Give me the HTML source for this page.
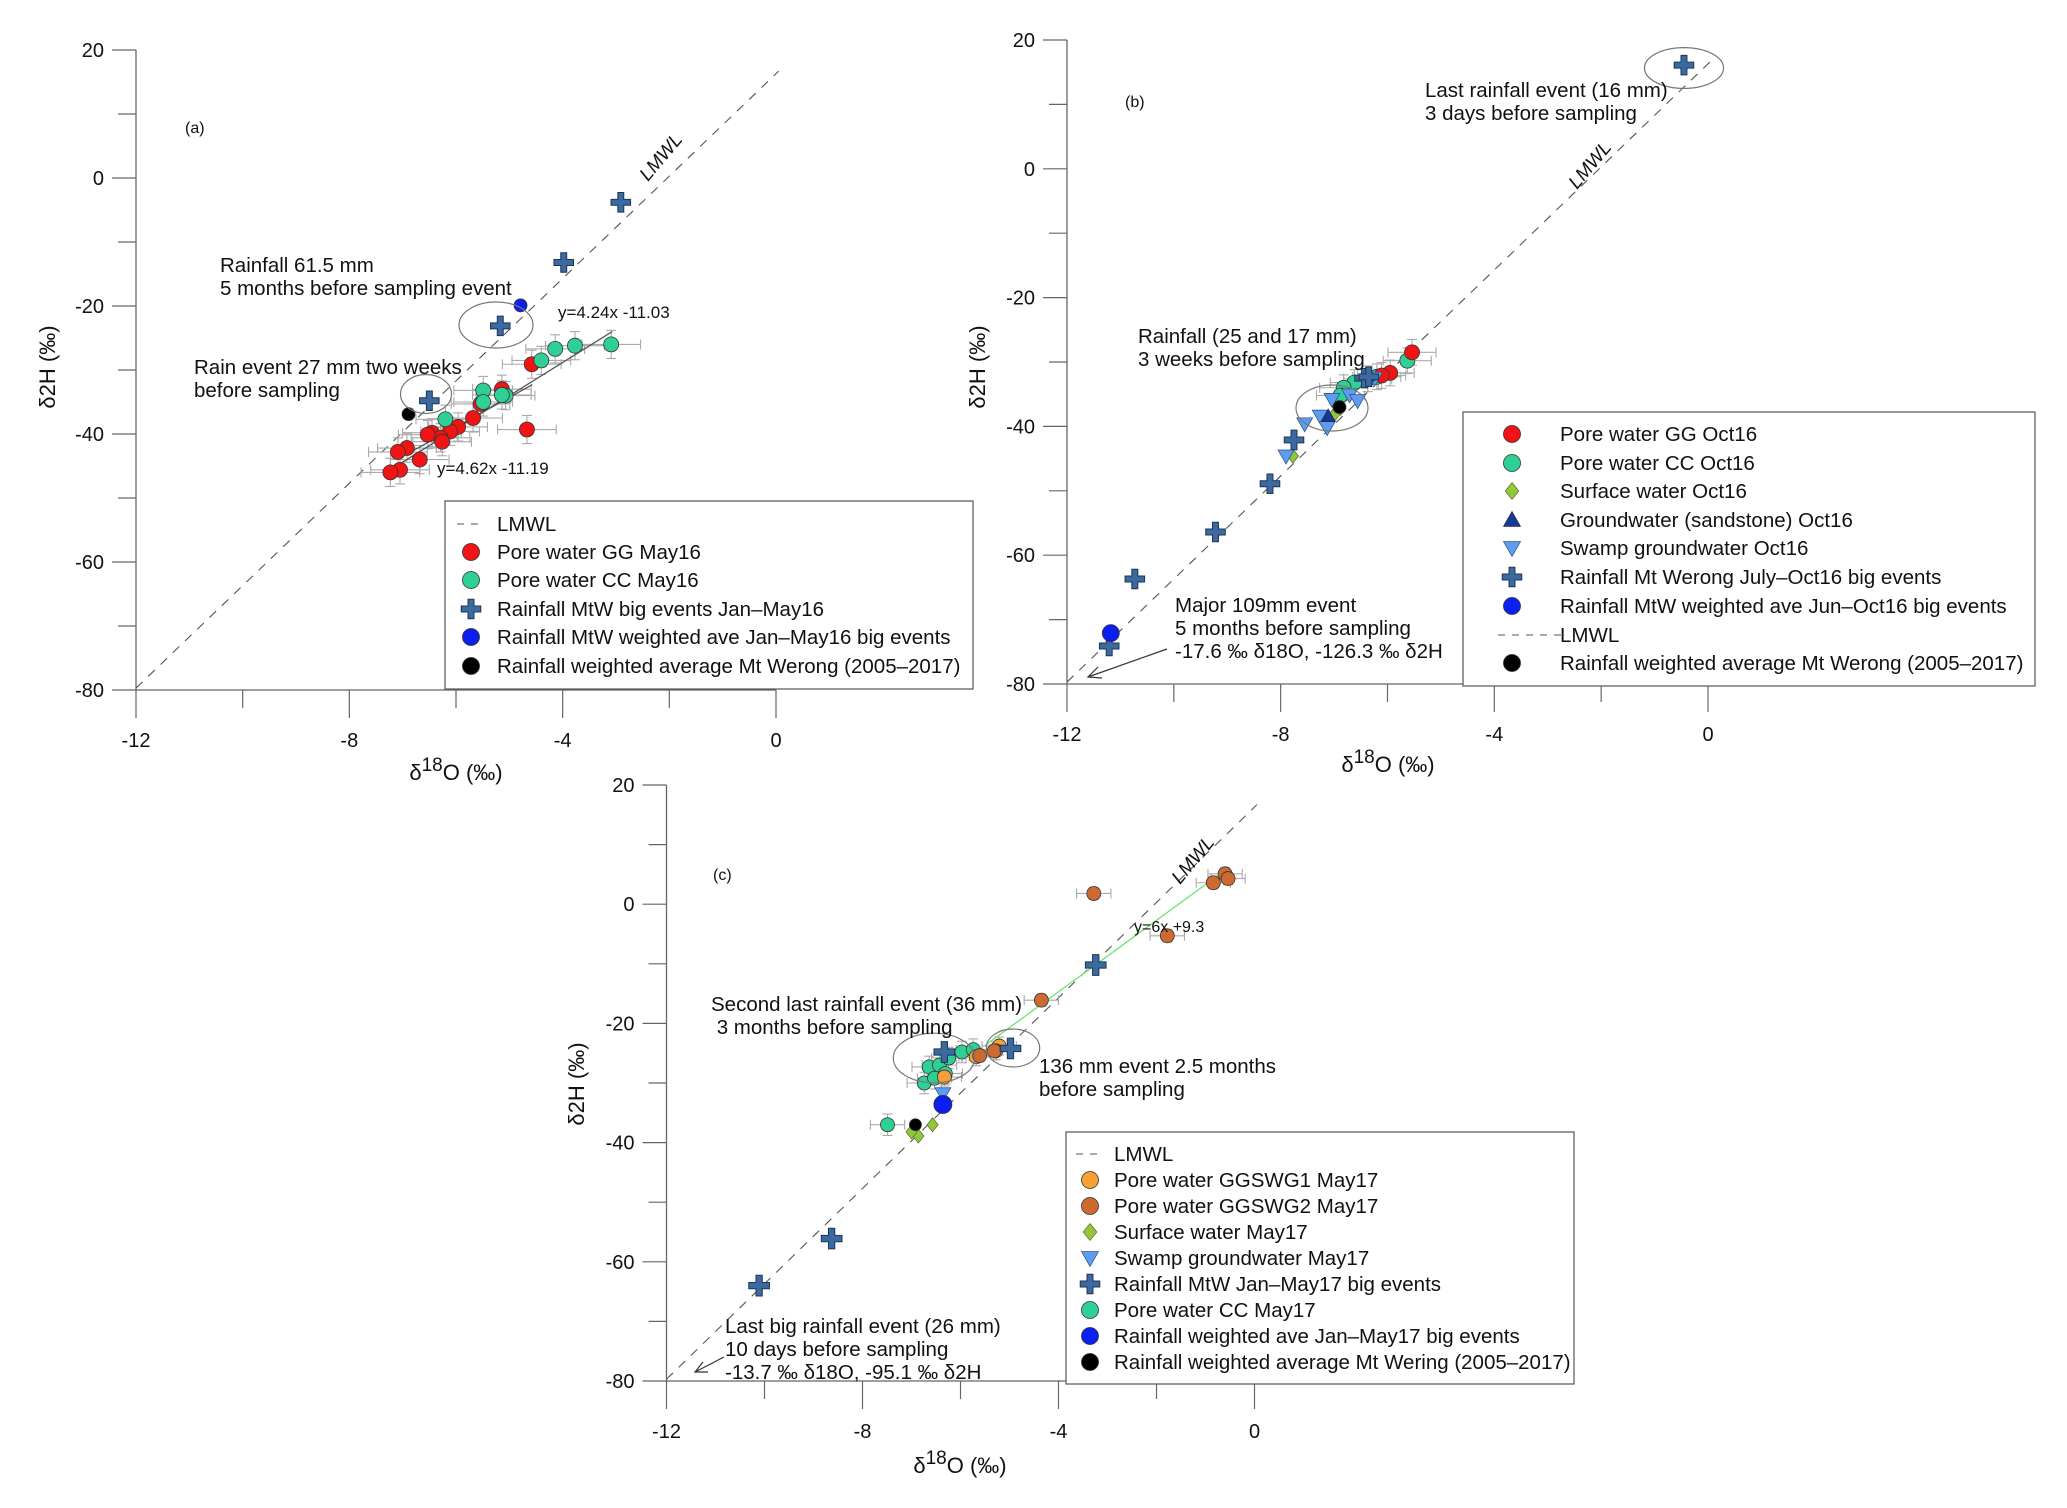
<!DOCTYPE html>
<html><head><meta charset="utf-8"><style>
html,body{margin:0;padding:0;background:#fff;}
svg{display:block;font-family:"Liberation Sans",Arial,sans-serif;}
</style></head><body>
<svg id="fig" width="2067" height="1508" viewBox="0 0 2067 1508" xmlns="http://www.w3.org/2000/svg"></svg>
<script>
// ---------- Panel (a) data ----------
const aRainX=[-2.91,-3.98,-5.17,-6.50];
const aRainY=[-3.8,-13.2,-23.1,-34.8];
const aWavgX=[-4.79]; const aWavgY=[-19.9];
const aLtX=[-6.89]; const aLtY=[-36.9];
const aCCX=[-3.09,-3.77,-4.14,-4.40,-5.07,-5.14,-5.49,-5.49,-6.20];
const aCCY=[-26.0,-26.2,-26.7,-28.5,-34.0,-33.9,-33.2,-35.0,-37.7];
const aGGX=[-4.58,-5.14,-5.54,-5.68,-5.96,-6.11,-6.45,-6.29,-6.26,-6.53,-4.67,-6.92,-7.09,-6.68,-7.05,-7.23];
const aGGY=[-29.1,-33.0,-35.3,-37.5,-38.9,-39.6,-39.8,-40.6,-41.2,-40.1,-39.3,-42.2,-42.8,-44.0,-45.6,-46.0];
const aFit1X=[-7.23,-3.07]; const aFit1Y=[-45.6,-24.0];
const aFit2X=[-6.89,-4.57]; const aFit2Y=[-43.0,-32.3];
// ---------- Panel (b) data ----------
const bRainX=[-0.45,-10.73,-9.22,-8.20,-7.75,-11.21,-6.43,-6.35];
const bRainY=[16.1,-63.7,-56.4,-48.9,-42.1,-74.1,-32.5,-32.3];
const bWavgX=[-11.18]; const bWavgY=[-72.1];
const bLtX=[-6.90]; const bLtY=[-37.0];
const bGGX=[-5.54,-5.95,-6.11]; const bGGY=[-28.5,-31.7,-32.1];
const bCCX=[-5.63,-6.20,-6.37,-6.62,-6.82,-6.88]; const bCCY=[-29.8,-32.3,-32.6,-33.2,-34.0,-35.2];
const bSurfX=[-7.77,-7.0,-6.88]; const bSurfY=[-44.6,-38.2,-37.2];
const bGwX=[-7.11]; const bGwY=[-38.4];
const bSwX=[-7.55,-7.90,-7.26,-7.13,-7.04,-6.71,-6.56,-6.24]; const bSwY=[-39.6,-44.6,-38.4,-40.2,-35.8,-35.1,-36.0,-32.5];
// ---------- Panel (c) data ----------
const cRainX=[-10.11,-8.63,-3.24,-4.98,-6.33]; const cRainY=[-64.0,-56.1,-10.2,-24.2,-24.8];
const cWavgX=[-6.36]; const cWavgY=[-33.6];
const cLtX=[-6.92]; const cLtY=[-37.0];
const cSurfX=[-6.86,-7.0,-6.57]; const cSurfY=[-38.9,-38.2,-37.0];
const cSwX=[-6.36]; const cSwY=[-31.8];
const cCCX=[-7.49,-6.74,-6.64,-6.43,-6.24,-5.97,-5.74,-6.31,-6.53]; const cCCY=[-37.0,-30.0,-27.3,-27.0,-25.8,-24.8,-24.4,-28.4,-29.2];
const cG1X=[-6.33,-5.68,-5.21,-5.28]; const cG1Y=[-29.0,-25.6,-23.8,-24.6];
const cG2X=[-3.28,-1.78,-4.35,-0.84,-0.60,-0.54,-5.31,-5.61]; const cG2Y=[1.8,-5.3,-16.1,3.6,5.1,4.3,-24.6,-25.4];
const cFitX=[-5.5,-0.63];
const lmwlX=[-12,0.05];
const xTicks=[-12,-8,-4,0]; const yTicks=[20,0,-20,-40,-60,-80];

const NS="http://www.w3.org/2000/svg";
const svg=document.getElementById('fig');
function el(tag,attrs,parent){const e=document.createElementNS(NS,tag);for(const k in attrs)e.setAttribute(k,attrs[k]);(parent||svg).appendChild(e);return e;}
function txt(parent,x,y,s,size,extra){const t=el('text',Object.assign({x:x,y:y,'font-size':size,fill:'#111'},extra||{}),parent);t.textContent=s;return t;}

const COL={red:'#f01414',cc:'#2fcf95',blue:'#0b1ff0',black:'#000',rain:'#3a6aa0',orange:'#f7a035',brown:'#cc6a30',surf:'#90c83a',sw:'#5d9cf0',gw:'#17379a'};
const FS=20.5;

function marker(g,type,x,y,color,r){
  let m;
  if(type==='circle'){m=el('circle',{cx:x,cy:y,r:r,fill:color,stroke:'#333','stroke-width':0.8},g);}
  else if(type==='cross'){const s=r*1.15,w=r*0.35;
    m=el('polygon',{points:[[x-w,y-s],[x+w,y-s],[x+w,y-w],[x+s,y-w],[x+s,y+w],[x+w,y+w],[x+w,y+s],[x-w,y+s],[x-w,y+w],[x-s,y+w],[x-s,y-w],[x-w,y-w]].map(p=>p.join(',')).join(' '),fill:color,stroke:'#1c3554','stroke-width':1},g);}
  else if(type==='diamond'){m=el('polygon',{points:`${x},${y-r} ${x+r*0.8},${y} ${x},${y+r} ${x-r*0.8},${y}`,fill:color,stroke:'#556b20','stroke-width':0.7},g);}
  else if(type==='tri-up'){m=el('polygon',{points:`${x},${y-r} ${x+r},${y+r*0.75} ${x-r},${y+r*0.75}`,fill:color,stroke:'#223','stroke-width':0.7},g);}
  else {m=el('polygon',{points:`${x-r},${y-r*0.75} ${x+r},${y-r*0.75} ${x},${y+r}`,fill:color,stroke:'#2a4c80','stroke-width':0.7},g);}
  return m;
}

function panel(cfg){
  const g=el('g',{});
  
  
  const X=v=>cfg.x0+(v+12)*(cfg.x1-cfg.x0)/12;
  const Y=v=>cfg.y0+(20-v)*(cfg.y1-cfg.y0)/100;
  cfg.X=X;cfg.Y=Y;
  const ax=el('g',{},g);
  
  
  const yl=el('line',{x1:cfg.x0,y1:Y(20),x2:cfg.x0,y2:Y(-80),stroke:'#666','stroke-width':1.3},ax);
  
  
  const xl=el('line',{x1:X(-12),y1:cfg.y1,x2:X(0),y2:cfg.y1,stroke:'#666','stroke-width':1.3},ax);
  
  
  for(let v=20;v>=-80;v-=10){const major=v%20===0;
    el('line',{x1:cfg.x0-(major?24:18),y1:Y(v),x2:cfg.x0,y2:Y(v),stroke:'#666','stroke-width':1.2},ax);}
  yTicks.forEach(v=>{const t=txt(ax,cfg.x0-32,Y(v)+7,String(v),cfg.fs,{'text-anchor':'end'});
    
    });
  for(let v=-12;v<=0;v+=2){const major=v%4===0;
    el('line',{x1:X(v),y1:cfg.y1,x2:X(v),y2:cfg.y1+(major?28:18),stroke:'#666','stroke-width':1.2},ax);}
  xTicks.forEach(v=>{const t=txt(ax,X(v),cfg.y1+57,String(v),cfg.fs,{'text-anchor':'middle'});
    
    });
  const yt=txt(ax,0,0,'',22,{'text-anchor':'middle',transform:`translate(${cfg.ytx},${cfg.yty}) rotate(-90)`});
  yt.innerHTML='δ2H (‰)';
  
  
  const xt=txt(ax,cfg.xtx,cfg.xty,'',22,{'text-anchor':'middle'});
  xt.innerHTML='δ<tspan dy="-9" font-size="19">18</tspan><tspan dy="9">O (‰)</tspan>';
  
  
  const lm=el('line',{x1:X(lmwlX[0]),y1:Y(8*lmwlX[0]+16.3),x2:X(lmwlX[1]),y2:Y(8*lmwlX[1]+16.3),stroke:'#555','stroke-width':1.1,'stroke-dasharray':'9,8'},g);
  
  
  const lt=txt(g,0,0,'LMWL',19,{transform:`translate(${cfg.lmx},${cfg.lmy}) rotate(-50)`,'font-style':'italic'});
  
  
  const p=el('text',{x:cfg.px,y:cfg.py,'font-size':16,fill:'#111'},g);p.textContent=cfg.plabel;
  
  
  return g;
}
function errbars(g,cfg,xs,ys,ex,ey){
  const eg=el('g',{stroke:'#aaa','stroke-width':1.1},g);
  
  
  xs.forEach((v,i)=>{const x=cfg.X(v),y=cfg.Y(ys[i]),dx=ex*(cfg.x1-cfg.x0)/12,dy=ey*(cfg.y1-cfg.y0)/100;
    el('line',{x1:x-dx,y1:y,x2:x+dx,y2:y},eg);el('line',{x1:x,y1:y-dy,x2:x,y2:y+dy},eg);
    el('line',{x1:x-dx,y1:y-5,x2:x-dx,y2:y+5},eg);el('line',{x1:x+dx,y1:y-5,x2:x+dx,y2:y+5},eg);
    el('line',{x1:x-5,y1:y-dy,x2:x+5,y2:y-dy},eg);el('line',{x1:x-5,y1:y+dy,x2:x+5,y2:y+dy},eg);});
}
function series(g,cfg,xs,ys,type,color,r,name){
  const sg=el('g',{},g);
  
  
  xs.forEach((v,i)=>{const m=marker(sg,type,cfg.X(v),cfg.Y(ys[i]),color,r);
    
    });
}
function legend(g,box,items,fs){
  const lg=el('g',{},g);
  
  
  el('rect',{x:box.x,y:box.y,width:box.w,height:box.h,fill:'#fff',stroke:'#555','stroke-width':1.2},lg);
  items.forEach((it,i)=>{const y=box.ey[i];
    const e=el('g',{},lg);
    
    
    if(it.t==='dash'){el('line',{x1:box.mx-14,y1:y,x2:box.mx+(box.dashw||14),y2:y,stroke:'#555','stroke-width':1.1,'stroke-dasharray':'7,7'},e);}
    else marker(e,it.t,box.mx,y,it.c,8.5);
    txt(e,box.tx,y+7,it.s,fs);});
}
function ell(g,cx,cy,rx,ry){const e=el('ellipse',{cx:cx,cy:cy,rx:rx,ry:ry,fill:'none',stroke:'#777','stroke-width':1.2},g);
  
  }
function note(g,x,y,lines,fs,lh){const t=el('text',{x:x,y:y,'font-size':fs,fill:'#111'},g);
  
  
  lines.forEach((s,i)=>{const ts=el('tspan',{x:x,y:y+i*lh},t);ts.textContent=s;});}
function fitline(g,cfg,xs,ys,color,name){const l=el('line',{x1:cfg.X(xs[0]),y1:cfg.Y(ys[0]),x2:cfg.X(xs[1]),y2:cfg.Y(ys[1]),stroke:color,'stroke-width':1.3},g);
  
  }

// ===== Panel A =====
const A={name:'panel-a',x0:136,x1:776,y0:50,y1:690,fs:20,ytx:55,yty:367,xtx:456,xty:780,lmx:648,lmy:182,px:185,py:133,plabel:'(a)'};
const gA=panel(A);
errbars(gA,A,aGGX,aGGY,0.55,2.2);errbars(gA,A,aCCX,aCCY,0.55,2.2);
fitline(gA,A,aFit1X,aFit1Y,'#555','regression-line-cc');
fitline(gA,A,aFit2X,aFit2Y,'#555','regression-line-gg');
series(gA,A,aGGX,aGGY,'circle',COL.red,7.5,'pore-water-gg');
series(gA,A,aCCX,aCCY,'circle',COL.cc,7.5,'pore-water-cc');
series(gA,A,aRainX,aRainY,'cross',COL.rain,8.5,'rainfall-big-events');
series(gA,A,aWavgX,aWavgY,'circle',COL.blue,6.5,'rainfall-weighted-ave');
series(gA,A,aLtX,aLtY,'circle',COL.black,6.5,'rainfall-longterm-ave');
ell(gA,496,325,37,23);ell(gA,426,394,25.5,19.5);
note(gA,220,272,['Rainfall 61.5 mm','5 months before sampling event'],FS,23);
note(gA,194,374,['Rain event 27 mm two weeks','before sampling'],FS,23);
note(gA,558,318,['y=4.24x -11.03'],17,20);
note(gA,437,474,['y=4.62x -11.19'],17,20);
legend(gA,{x:445,y:501,w:528,h:188,mx:471,tx:497,ey:[524,552,580,609,637,666]},[
 {t:'dash',s:'LMWL'},{t:'circle',c:COL.red,s:'Pore water GG May16'},{t:'circle',c:COL.cc,s:'Pore water CC May16'},
 {t:'cross',c:COL.rain,s:'Rainfall MtW big events Jan–May16'},{t:'circle',c:COL.blue,s:'Rainfall MtW weighted ave Jan–May16 big events'},
 {t:'circle',c:COL.black,s:'Rainfall weighted average Mt Werong (2005–2017)'}],FS);

// ===== Panel B =====
const B={name:'panel-b',x0:1067,x1:1708,y0:40,y1:684,fs:20,ytx:985,yty:367,xtx:1388,xty:772,lmx:1577,lmy:190,px:1125,py:107,plabel:'(b)'};
const gB=panel(B);
errbars(gB,B,bGGX,bGGY,0.45,2);errbars(gB,B,bCCX,bCCY,0.45,2);
series(gB,B,bCCX,bCCY,'circle',COL.cc,7.5,'pore-water-cc');
series(gB,B,bGGX,bGGY,'circle',COL.red,7.5,'pore-water-gg');
series(gB,B,bSurfX,bSurfY,'diamond',COL.surf,7,'surface-water');
series(gB,B,bSwX,bSwY,'tri-down',COL.sw,8,'swamp-groundwater');
series(gB,B,bGwX,bGwY,'tri-up',COL.gw,7,'groundwater-sandstone');
series(gB,B,bRainX,bRainY,'cross',COL.rain,8.5,'rainfall-big-events');
series(gB,B,bWavgX,bWavgY,'circle',COL.blue,8.5,'rainfall-weighted-ave');
series(gB,B,bLtX,bLtY,'circle',COL.black,6.5,'rainfall-longterm-ave');
ell(gB,1684,68,39.5,20.4);ell(gB,1332,408,36,23);
note(gB,1425,97,['Last rainfall event (16 mm)','3 days before sampling'],FS,23);
note(gB,1138,343,['Rainfall (25 and 17 mm)','3 weeks before sampling'],FS,23);
note(gB,1175,612,['Major 109mm event','5 months before sampling','-17.6 ‰ δ18O, -126.3 ‰ δ2H'],FS,23);
const arB=el('g',{stroke:'#333','stroke-width':1.2,fill:'none'},gB);


el('line',{x1:1167,y1:649,x2:1088,y2:677},arB);el('polyline',{points:'1098,667 1088,677 1102,678'},arB);
legend(gB,{x:1463,y:412,w:572,h:274,mx:1512,tx:1560,ey:[434,463,491,520,548,577,606,635,663],dashw:50},[
 {t:'circle',c:COL.red,s:'Pore water GG Oct16'},{t:'circle',c:COL.cc,s:'Pore water CC Oct16'},{t:'diamond',c:COL.surf,s:'Surface water Oct16'},
 {t:'tri-up',c:COL.gw,s:'Groundwater (sandstone) Oct16'},{t:'tri-down',c:COL.sw,s:'Swamp groundwater Oct16'},
 {t:'cross',c:COL.rain,s:'Rainfall Mt Werong July–Oct16 big events'},{t:'circle',c:COL.blue,s:'Rainfall MtW weighted ave Jun–Oct16 big events'},
 {t:'dash',s:'LMWL'},{t:'circle',c:COL.black,s:'Rainfall weighted average Mt Werong (2005–2017)'}],FS);

// ===== Panel C =====
const C={name:'panel-c',x0:666.5,x1:1254.5,y0:785,y1:1381,fs:20,ytx:584,yty:1084,xtx:960,xty:1473,lmx:1180,lmy:885,px:713,py:880,plabel:'(c)'};
const gC=panel(C);
errbars(gC,C,cCCX,cCCY,0.35,1.8);errbars(gC,C,cG1X,cG1Y,0.35,1.5);errbars(gC,C,cG2X,cG2Y,0.35,1.0);
fitline(gC,C,cFitX,cFitX.map(v=>6*v+9.3),'#6ee66e','regression-line');
series(gC,C,cCCX,cCCY,'circle',COL.cc,7,'pore-water-cc');
series(gC,C,cG1X,cG1Y,'circle',COL.orange,7,'pore-water-ggswg1');
series(gC,C,cG2X,cG2Y,'circle',COL.brown,7,'pore-water-ggswg2');
series(gC,C,cSurfX,cSurfY,'diamond',COL.surf,7,'surface-water');
series(gC,C,cSwX,cSwY,'tri-down',COL.sw,8,'swamp-groundwater');
series(gC,C,cRainX,cRainY,'cross',COL.rain,9,'rainfall-big-events');
series(gC,C,cWavgX,cWavgY,'circle',COL.blue,9,'rainfall-weighted-ave');
series(gC,C,cLtX,cLtY,'circle',COL.black,6,'rainfall-longterm-ave');
ell(gC,934,1058,40.7,24.8);ell(gC,1013,1048,26.7,19);
note(gC,1134,932,['y=6x +9.3'],16,20);
note(gC,711,1011,['Second last rainfall event (36 mm)',' 3 months before sampling'],FS,23);
note(gC,1039,1073,['136 mm event 2.5 months','before sampling'],FS,23);
note(gC,725,1333,['Last big rainfall event (26 mm)','10 days before sampling','-13.7 ‰ δ18O, -95.1 ‰ δ2H'],FS,23);
const arC=el('g',{stroke:'#333','stroke-width':1.2,fill:'none'},gC);


el('line',{x1:724,y1:1357,x2:695,y2:1372},arC);el('polyline',{points:'703,1362 695,1372 708,1372'},arC);
legend(gC,{x:1066,y:1132,w:508,h:252,mx:1090,tx:1114,ey:[1154,1180,1206,1232,1258,1284,1310,1336,1362]},[
 {t:'dash',s:'LMWL'},{t:'circle',c:COL.orange,s:'Pore water GGSWG1 May17'},{t:'circle',c:COL.brown,s:'Pore water GGSWG2 May17'},
 {t:'diamond',c:COL.surf,s:'Surface water May17'},{t:'tri-down',c:COL.sw,s:'Swamp groundwater May17'},
 {t:'cross',c:COL.rain,s:'Rainfall MtW Jan–May17 big events'},{t:'circle',c:COL.cc,s:'Pore water CC May17'},
 {t:'circle',c:COL.blue,s:'Rainfall weighted ave Jan–May17 big events'},{t:'circle',c:COL.black,s:'Rainfall weighted average Mt Wering (2005–2017)'}],FS);
</script>
</body></html>
